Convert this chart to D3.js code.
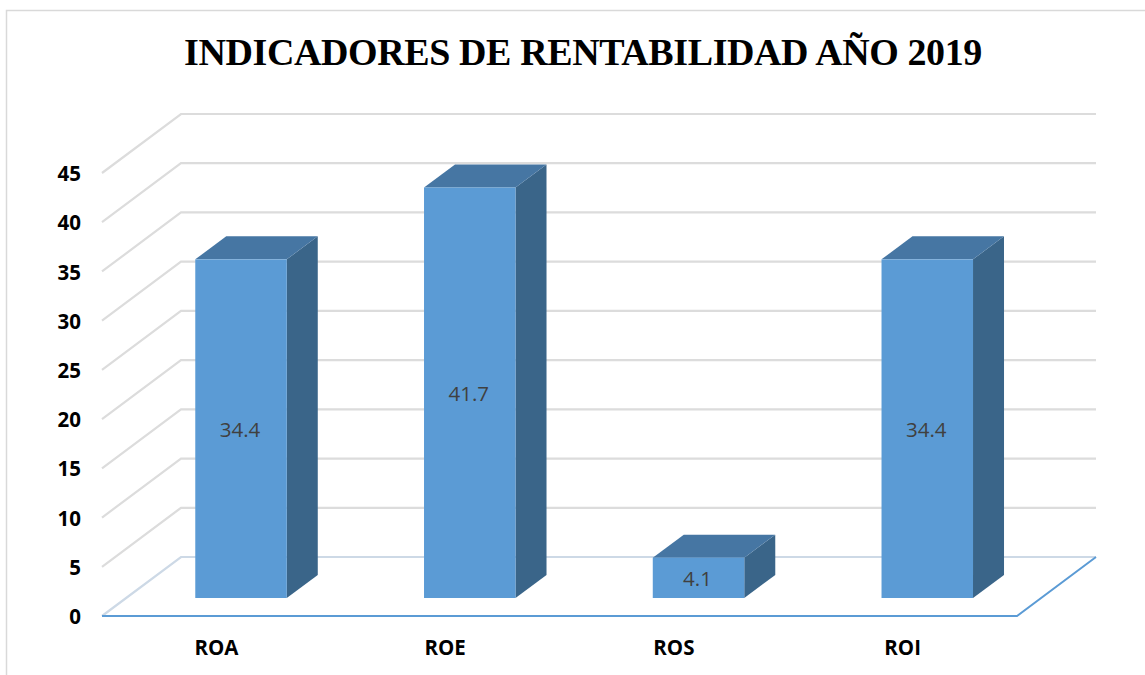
<!DOCTYPE html>
<html>

<head>
    <meta charset='utf-8'>
    <title>Indicadores de rentabilidad</title>
    <script type='text/javascript' src='https://cdn.jsdelivr.net/npm/d3@7'></script>
    <style>
        html, body { margin: 0; padding: 0; background: #fff; overflow: hidden; }
    </style>
</head>

<body>
    <svg width='1145' height='675'></svg>
    <script type='text/javascript'>
        const categories = ['ROA', 'ROE', 'ROS', 'ROI']
        const values = [34.4, 41.7, 4.1, 34.4]
        const yTicks = [0, 5, 10, 15, 20, 25, 30, 35, 40, 45]
        const titleText = 'INDICADORES DE RENTABILIDAD AÑO 2019'

        const sans = "'Open Sans', 'Noto Sans', sans-serif"
        const svg = d3.select('svg')

        // la caja 3d: frente del piso y cuanto se corre hacia el fondo
        const depth = { x: 79, y: -59 }
        const xScale = d3.scaleBand(categories, [102, 1017]).paddingInner(0.6).paddingOuter(0.3)
        const labelScale = d3.scaleBand(categories, [102, 1017])
        const yScale = d3.scaleLinear([0, 45], [616, 173])

        // posicion del frente y profundidad de la barra dentro de la caja
        const barShift = 0.312
        const barDepth = { x: 31, y: -23 }
        const barX = d => xScale(d.cat) + depth.x * barShift
        const barBase = yScale(0) + depth.y * 0.305
        const barTop = d => barBase - (yScale(0) - yScale(d.value))

        const data = categories.map((cat, i) => ({ cat, value: values[i] }))

        // marco
        svg.append('path')
            .attr('d', 'M6.5,675V10.5H1145')
            .attr('fill', 'none')
            .attr('stroke', '#d9d9d9')
            .attr('stroke-width', 1.5)

        svg.append('text')
            .attr('x', 583)
            .attr('y', 65)
            .attr('text-anchor', 'middle')
            .attr('font-family', "'Liberation Serif', serif")
            .attr('font-weight', 'bold')
            .attr('font-size', '38px')
            .attr('letter-spacing', '-0.4px')
            .attr('fill', '#000')
            .text(titleText)

        // rejilla: lado izquierdo y pared del fondo
        const wall = d3.line()
        const grid = svg.append('g').attr('id', 'grid')
        grid.selectAll('path')
            .data(yTicks.filter(d => d > 0))
            .join('path')
            .attr('d', d => wall([
                [102, yScale(d)],
                [102 + depth.x, yScale(d) + depth.y],
                [1017 + depth.x, yScale(d) + depth.y]
            ]))
            .attr('fill', 'none')
            .attr('stroke', '#dcdcdc')
            .attr('stroke-width', 2.2)

        // piso
        const y0 = yScale(0)
        svg.append('path')
            .attr('d', wall([[102, y0], [102 + depth.x, y0 + depth.y], [1017 + depth.x, y0 + depth.y]]))
            .attr('fill', 'none')
            .attr('stroke', '#cdd9e6')
            .attr('stroke-width', 2.2)
        svg.append('path')
            .attr('d', wall([[102, y0], [1017, y0], [1017 + depth.x, y0 + depth.y]]))
            .attr('fill', 'none')
            .attr('stroke', '#5b9bd5')
            .attr('stroke-width', 2)

        // barras
        const bars = svg.append('g').attr('id', 'bars').selectAll('g').data(data).join('g')
        bars.append('path')
            .attr('d', d => {
                const x = barX(d) + xScale.bandwidth(), t = barTop(d)
                return wall([[x, t], [x + barDepth.x, t + barDepth.y], [x + barDepth.x, barBase + barDepth.y], [x, barBase]]) + 'Z'
            })
            .attr('fill', '#3a6589')
        bars.append('path')
            .attr('d', d => {
                const x = barX(d), w = xScale.bandwidth(), t = barTop(d)
                return wall([[x, t], [x + barDepth.x, t + barDepth.y], [x + w + barDepth.x, t + barDepth.y], [x + w, t]]) + 'Z'
            })
            .attr('fill', '#4676a3')
        bars.append('rect')
            .attr('x', barX)
            .attr('y', barTop)
            .attr('width', xScale.bandwidth())
            .attr('height', d => barBase - barTop(d))
            .attr('fill', '#5b9bd5')
        bars.append('text')
            .attr('x', d => barX(d) + xScale.bandwidth() / 2 - 1)
            .attr('y', d => (barBase + barTop(d)) / 2 + 1.5)
            .attr('dy', '0.35em')
            .attr('text-anchor', 'middle')
            .attr('font-family', sans)
            .attr('font-size', '20.5px')
            .attr('fill', '#404040')
            .text(d => d.value)

        // ejes
        const yAxis = d3.axisLeft(yScale).tickValues(yTicks).tickSize(0).tickPadding(0)
        const gY = svg.append('g').attr('transform', 'translate(81,1)').call(yAxis)
        gY.select('.domain').remove()
        gY.selectAll('text')
            .attr('font-family', sans)
            .attr('font-weight', 'bold')
            .attr('font-size', '20.5px')
            .attr('fill', '#000')

        const xAxis = d3.axisBottom(labelScale).tickSize(0).tickPadding(0)
        const gX = svg.append('g').attr('transform', 'translate(0,640)').call(xAxis)
        gX.select('.domain').remove()
        gX.selectAll('text')
            .attr('font-family', sans)
            .attr('font-weight', 'bold')
            .attr('font-size', '20.5px')
            .attr('fill', '#000')
    </script>
</body>

</html>
